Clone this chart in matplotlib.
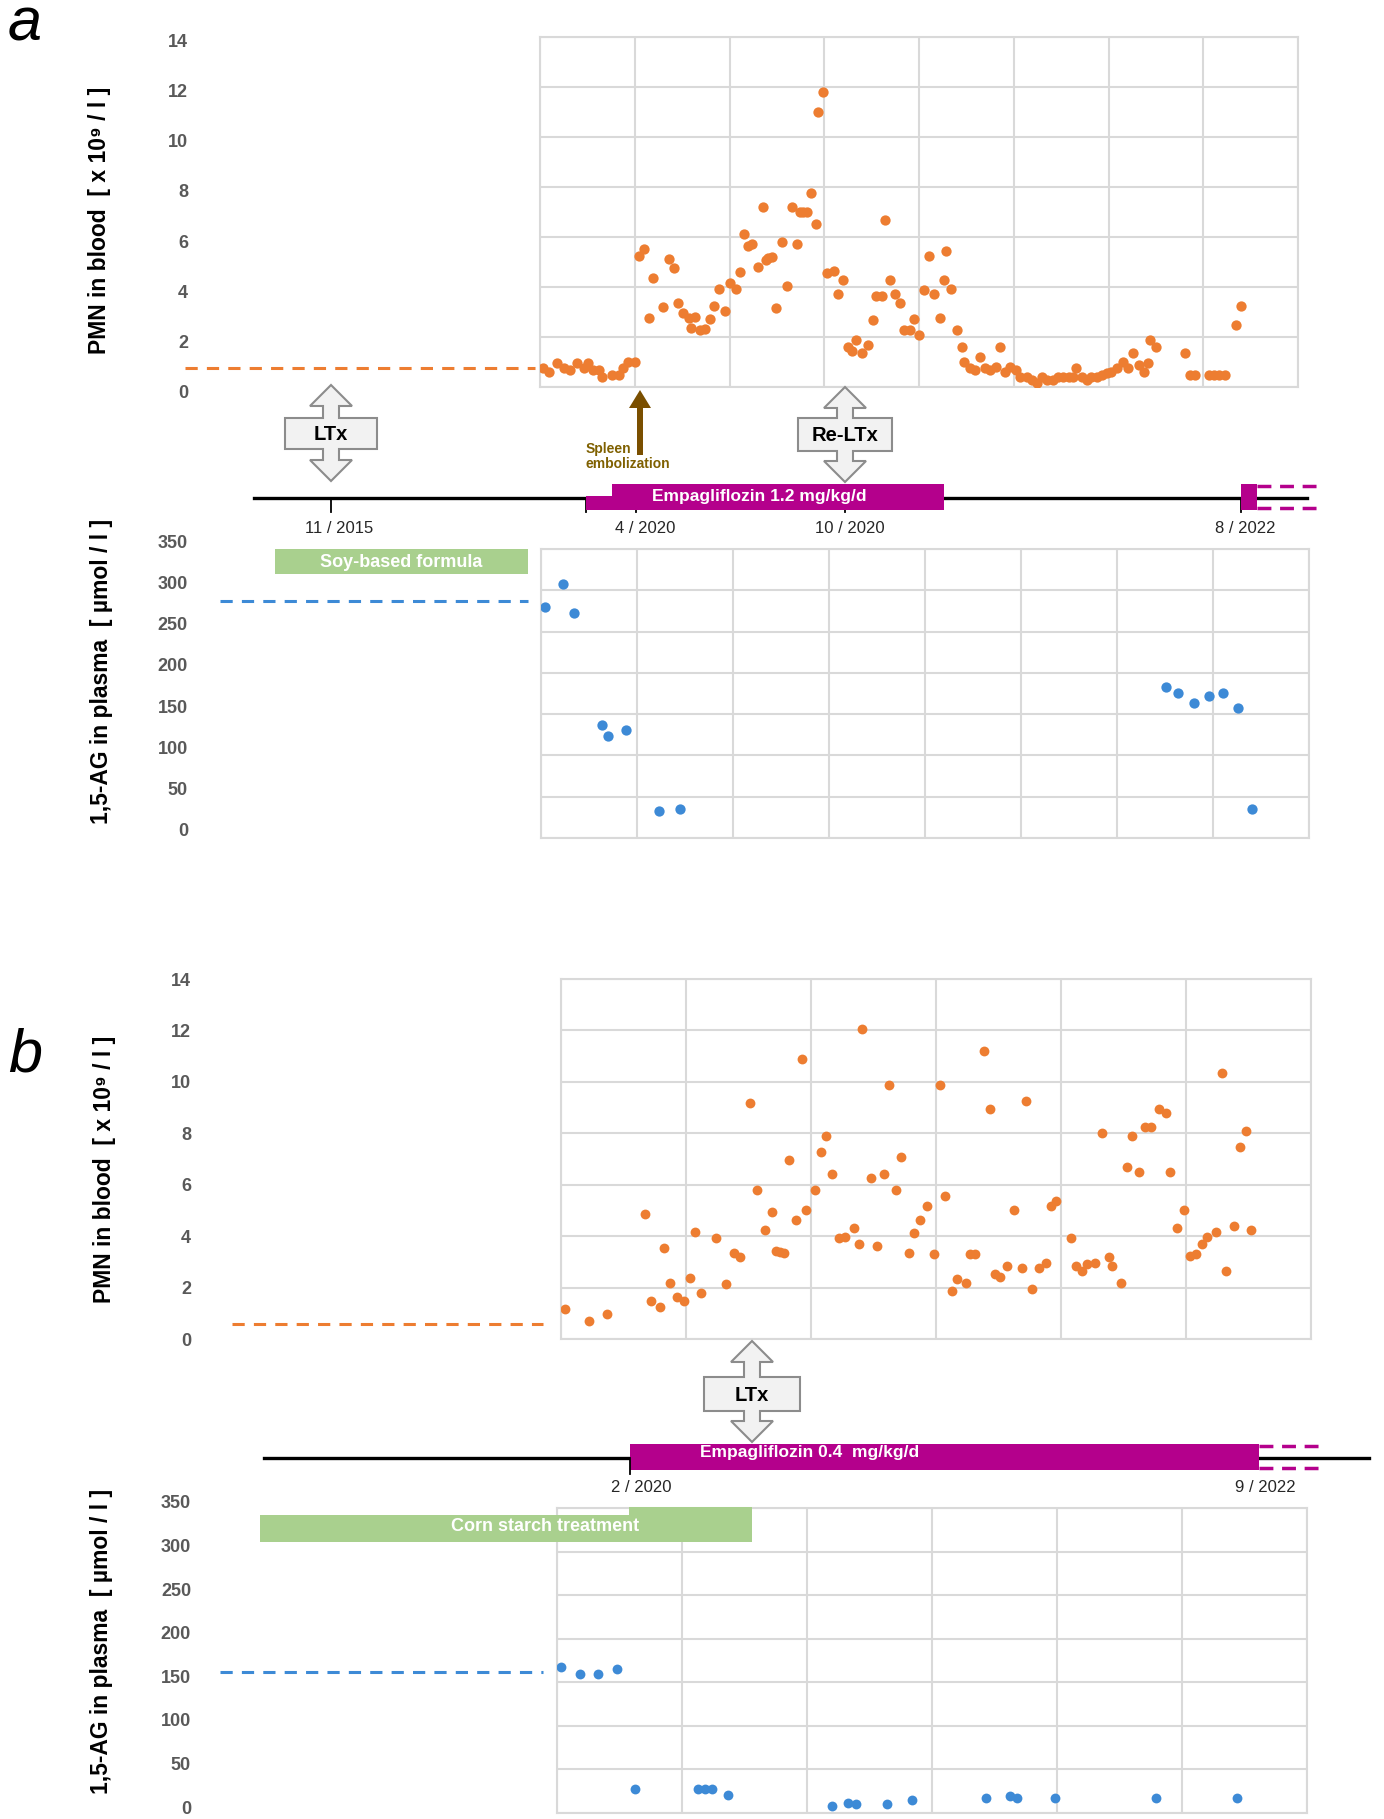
import matplotlib
matplotlib.use("Agg")
import matplotlib.pyplot as plt
import matplotlib.transforms as mtransforms
from matplotlib import font_manager
from matplotlib.patches import Rectangle, Polygon, FancyArrow

# fonts: narrow sans if we have it
names = {f.name for f in font_manager.fontManager.ttflist}
narrow = 'Liberation Sans Narrow' if 'Liberation Sans Narrow' in names else 'Liberation Sans'
plt.rcParams['font.family'] = [narrow, 'DejaVu Sans']

# ---- data (x = position in grid columns) ----
pmn_a_x = [0.035, 0.10, 0.18, 0.25, 0.32, 0.39, 0.46, 0.51, 0.56, 0.62, 0.65, 0.76, 0.83, 0.88, 0.93, 1.00,
           1.05, 1.10, 1.15, 1.19, 1.30, 1.36, 1.41, 1.46, 1.51, 1.57, 1.59, 1.64, 1.69, 1.74, 1.79, 1.84,
           1.89, 1.95, 2.01, 2.07, 2.11, 2.15, 2.20, 2.24, 2.30, 2.35, 2.38, 2.41, 2.45, 2.49, 2.55, 2.61,
           2.66, 2.71, 2.74, 2.78, 2.82, 2.86, 2.91, 2.93, 2.99, 3.03, 3.10, 3.15, 3.20, 3.25, 3.29, 3.34,
           3.40, 3.46, 3.51, 3.55, 3.61, 3.64, 3.69, 3.75, 3.80, 3.84, 3.90, 3.95, 4.00, 4.05, 4.11, 4.16,
           4.22, 4.26, 4.29, 4.34, 4.40, 4.45, 4.48, 4.54, 4.59, 4.64, 4.70, 4.75, 4.81, 4.85, 4.91, 4.96,
           5.02, 5.07, 5.14, 5.19, 5.25, 5.30, 5.35, 5.41, 5.47, 5.52, 5.58, 5.63, 5.66, 5.72, 5.77, 5.82,
           5.88, 5.93, 5.98, 6.03, 6.09, 6.15, 6.21, 6.26, 6.32, 6.37, 6.42, 6.44, 6.50, 6.81, 6.86, 6.91,
           7.06, 7.11, 7.17, 7.23, 7.35, 7.40]
pmn_a_y = [0.75, 0.61, 0.95, 0.75, 0.68, 0.95, 0.75, 0.95, 0.68, 0.68, 0.41, 0.48, 0.48, 0.75, 1.01, 1.01,
           5.24, 5.52, 2.77, 4.35, 3.19, 5.11, 4.75, 3.37, 2.97, 2.75, 2.35, 2.79, 2.28, 2.31, 2.71, 3.24,
           3.92, 3.04, 4.15, 3.92, 4.61, 6.12, 5.64, 5.71, 4.81, 7.21, 5.08, 5.15, 5.21, 3.17, 5.79, 4.05,
           7.21, 5.71, 7.01, 7.01, 7.01, 7.77, 6.52, 10.99, 11.81, 4.55, 4.65, 3.72, 4.28, 1.59, 1.45, 1.88,
           1.35, 1.68, 2.68, 3.64, 3.64, 6.68, 4.28, 3.72, 3.37, 2.28, 2.28, 2.71, 2.08, 3.88, 5.24, 3.71,
           2.77, 4.28, 5.44, 3.92, 2.28, 1.59, 1.01, 0.75, 0.68, 1.19, 0.75, 0.68, 0.81, 1.59, 0.61, 0.81,
           0.68, 0.41, 0.41, 0.28, 0.17, 0.41, 0.28, 0.28, 0.41, 0.41, 0.41, 0.41, 0.75, 0.41, 0.28, 0.41,
           0.41, 0.48, 0.55, 0.61, 0.75, 1.01, 0.75, 1.35, 0.88, 0.61, 0.97, 1.88, 1.59, 1.35, 0.48, 0.48,
           0.48, 0.48, 0.48, 0.48, 2.48, 3.24]
ag_a_x = [0.04, 0.23, 0.34, 0.64, 0.70, 0.89, 1.23, 1.45, 6.51, 6.64, 6.80, 6.96, 7.10, 7.26, 7.41]
ag_a_y = [280, 308, 272, 137, 124, 131, 33, 35, 183, 176, 164, 172, 176, 157, 35]

pmn_b_x = [0.03, 0.22, 0.37, 0.67, 0.72, 0.79, 0.82, 0.87, 0.93, 0.98, 1.03, 1.07, 1.12, 1.24, 1.32, 1.38,
           1.43, 1.51, 1.57, 1.63, 1.69, 1.72, 1.75, 1.78, 1.82, 1.88, 1.93, 1.96, 2.03, 2.08, 2.12, 2.17,
           2.22, 2.27, 2.34, 2.38, 2.41, 2.48, 2.53, 2.58, 2.62, 2.68, 2.72, 2.78, 2.82, 2.87, 2.93, 2.98,
           3.03, 3.07, 3.13, 3.17, 3.24, 3.27, 3.31, 3.38, 3.43, 3.47, 3.51, 3.57, 3.62, 3.69, 3.72, 3.77,
           3.82, 3.88, 3.92, 3.96, 4.08, 4.12, 4.17, 4.21, 4.27, 4.33, 4.38, 4.41, 4.48, 4.53, 4.57, 4.62,
           4.67, 4.72, 4.78, 4.84, 4.87, 4.93, 4.98, 5.03, 5.08, 5.13, 5.17, 5.24, 5.29, 5.32, 5.38, 5.43,
           5.48, 5.52]
pmn_b_y = [1.17, 0.71, 0.96, 4.85, 1.49, 1.23, 3.53, 2.19, 1.65, 1.48, 2.36, 4.15, 1.80, 3.92, 2.13, 3.36,
           3.20, 9.17, 5.80, 4.24, 4.93, 3.43, 3.40, 3.36, 6.97, 4.63, 10.90, 5.02, 5.80, 7.29, 7.91, 6.42,
           3.92, 3.98, 4.31, 3.68, 12.07, 6.25, 3.62, 6.42, 9.86, 5.80, 7.06, 3.36, 4.14, 4.63, 5.18, 3.30,
           9.86, 5.57, 1.88, 2.34, 2.19, 3.30, 3.30, 11.21, 8.94, 2.52, 2.43, 2.84, 5.02, 2.75, 9.26, 1.95,
           2.75, 2.97, 5.18, 5.35, 3.92, 2.84, 2.65, 2.91, 2.97, 8.01, 3.18, 2.84, 2.19, 6.68, 7.91, 6.51,
           8.24, 8.24, 8.95, 8.78, 6.51, 4.31, 5.02, 3.23, 3.30, 3.68, 3.98, 4.15, 10.34, 2.66, 4.40, 7.46,
           8.07, 4.24]
ag_b_x = [0.03, 0.18, 0.33, 0.48, 0.62, 1.13, 1.18, 1.24, 1.37, 2.20, 2.33, 2.39, 2.64, 2.84, 3.43, 3.62,
          3.68, 3.98, 4.79, 5.44]
ag_b_y = [167, 160, 160, 165, 28, 28, 28, 28, 21, 8, 12, 10, 10, 15, 17, 19, 17, 17, 17, 17]

pmn_ref = [0.76, 0.58]     # pre-treatment level, panels a / b
ag_ref = [287, 162]

ORANGE = '#ed7d31'
BLUE = '#3d8ad6'
MAGENTA = '#b4008c'
GREEN = '#a9d08e'
GRID = '#d9d9d9'
TICKC = '#595959'

W, H = 1384, 1819
fig = plt.figure(figsize=(W / 100, H / 100), dpi=100)


def rect(l, t, r, b):
    return [l / W, 1 - b / H, (r - l) / W, (b - t) / H]


def make_ax(box, ncol, ymax, ystep, pad_px, lab_shift=0):
    ax = fig.add_axes(rect(*box))
    ax.set_xlim(0, ncol)
    ax.set_ylim(0, ymax)
    ax.set_xticks(range(ncol + 1))
    ax.set_yticks(range(0, ymax + 1, ystep))
    ax.set_xticklabels([])
    ax.grid(True, color=GRID, lw=1.5)
    ax.set_axisbelow(True)
    for s in ax.spines.values():
        s.set_color(GRID)
        s.set_linewidth(1.5)
    ax.tick_params(axis='x', length=0)
    ax.tick_params(axis='y', length=0, pad=pad_px * 0.72, labelcolor=TICKC, labelsize=13)
    off = mtransforms.ScaledTranslation(0, lab_shift / 100, fig.dpi_scale_trans)
    for lab in ax.get_yticklabels():
        lab.set_fontweight('bold')
        lab.set_transform(lab.get_transform() + off)
    return ax


def set_ylab(ax, text, cx, cy, box):
    l, t, r, b = box
    ax.set_ylabel(text, fontsize=16.5, fontweight='bold', va='center')
    ax.yaxis.set_label_coords((cx - l) / (r - l), (b - cy) / (b - t))


def ref_line(ax, box, x0, x1, yval, color):
    l, t, r, b = box
    tr = mtransforms.blended_transform_factory(ax.transAxes, ax.transData)
    ax.plot([(x0 - l) / (r - l), (x1 - l) / (r - l)], [yval, yval], transform=tr,
            color=color, ls=(0, (4, 3)), lw=2.2, clip_on=False)


pmn_lab = 'PMN in blood  [ x 10⁹ / l ]'
ag_lab = '1,5-AG in plasma  [ µmol / l ]'

# ---- panel a ----
boxA1 = (540, 37, 1298, 387)
axA1 = make_ax(boxA1, 8, 14, 2, 352, -4)
axA1.scatter(pmn_a_x, pmn_a_y, s=55, color=ORANGE, lw=0, zorder=3)
set_ylab(axA1, pmn_lab, 100, 220, boxA1)
ref_line(axA1, boxA1, 185, 535, pmn_ref[0], ORANGE)

boxA2 = (541, 549, 1309, 838)
axA2 = make_ax(boxA2, 8, 350, 50, 353, 8)
axA2.scatter(ag_a_x, ag_a_y, s=55, color=BLUE, lw=0, zorder=3)
set_ylab(axA2, ag_lab, 102, 671, boxA2)
ref_line(axA2, boxA2, 220, 528, ag_ref[0], BLUE)

# ---- panel b ----
boxB1 = (561, 979, 1311, 1339)
axB1 = make_ax(boxB1, 6, 14, 2, 370, 0)
axB1.scatter(pmn_b_x, pmn_b_y, s=50, color=ORANGE, lw=0, zorder=3)
set_ylab(axB1, pmn_lab, 104, 1169, boxB1)
ref_line(axB1, boxB1, 232, 543, pmn_ref[1], ORANGE)

boxB2 = (557, 1508, 1307, 1813)
axB2 = make_ax(boxB2, 6, 350, 50, 366, 6)
axB2.scatter(ag_b_x, ag_b_y, s=50, color=BLUE, lw=0, zorder=3)
set_ylab(axB2, ag_lab, 102, 1641, boxB2)
ref_line(axB2, boxB2, 220, 543, ag_ref[1], BLUE)

# ---- overlay for timelines / annotations (pixel coords) ----
ov = fig.add_axes([0, 0, 1, 1])
ov.set_xlim(0, W)
ov.set_ylim(H, 0)
ov.axis('off')


def box(x, y, w, h, color):
    ov.add_patch(Rectangle((x, y), w, h, color=color, lw=0, zorder=3))


def callout(cx, top, bot, bw, btop, bbot, label):
    hw, hl, sw = 21, 21, 8
    pts = [(cx, top), (cx + hw, top + hl), (cx + sw, top + hl), (cx + sw, btop), (cx + bw, btop),
           (cx + bw, bbot), (cx + sw, bbot), (cx + sw, bot - hl), (cx + hw, bot - hl), (cx, bot),
           (cx - hw, bot - hl), (cx - sw, bot - hl), (cx - sw, bbot), (cx - bw, bbot), (cx - bw, btop),
           (cx - sw, btop), (cx - sw, top + hl), (cx - hw, top + hl)]
    ov.add_patch(Polygon(pts, closed=True, fc='#f2f2f2', ec='#8c8c8c', lw=1.5, zorder=4))
    ov.text(cx, (btop + bbot) / 2 + 1, label, ha='center', va='center', fontsize=14.5,
            fontweight='bold', zorder=5)


def date_lab(x, y, s):
    ov.text(x, y, s, ha='center', va='center', fontsize=12, color='#262626')


# timeline a
ov.plot([254, 1307], [498, 498], color='black', lw=2.4, zorder=2)
for tx in [331, 586, 636, 845, 1241]:
    ov.plot([tx, tx], [498, 512], color='black', lw=1.3, zorder=2)
box(586, 496, 26, 14, MAGENTA)
box(612, 484, 332, 26, MAGENTA)
box(1241, 484, 16, 26, MAGENTA)
for yy in [486, 508]:
    ov.plot([1257, 1318], [yy, yy], color=MAGENTA, lw=2.5, ls=(0, (4, 2.5)), zorder=3)
ov.text(759, 496, 'Empagliflozin 1.2 mg/kg/d', ha='center', va='center', color='white',
        fontsize=12.5, fontweight='bold', zorder=5)
date_lab(339, 528, '11 / 2015')
date_lab(645, 528, '4 / 2020')
date_lab(850, 528, '10 / 2020')
date_lab(1245, 528, '8 / 2022')

callout(331, 385, 481, 46, 418, 449, 'LTx')
callout(845, 387, 482, 47, 418, 451, 'Re-LTx')

ov.add_patch(FancyArrow(640, 455, 0, -65, width=6, head_width=22, head_length=18,
                        length_includes_head=True, color='#7a4f00', lw=0, zorder=4))
ov.text(586, 449, 'Spleen', ha='left', va='center', fontsize=10, fontweight='bold', color='#7f6000')
ov.text(586, 464, 'embolization', ha='left', va='center', fontsize=10, fontweight='bold', color='#7f6000')

box(275, 549, 253, 25, GREEN)
ov.text(401, 562, 'Soy-based formula', ha='center', va='center', color='white', fontsize=13,
        fontweight='bold', zorder=5)

# timeline b
ov.plot([264, 1369], [1458, 1458], color='black', lw=2.4, zorder=2)
ov.plot([630, 630], [1458, 1474], color='black', lw=1.3, zorder=4)
box(630, 1444, 629, 26, MAGENTA)
for yy in [1446, 1468]:
    ov.plot([1259, 1322], [yy, yy], color=MAGENTA, lw=2.5, ls=(0, (4, 2.5)), zorder=3)
ov.text(810, 1452, 'Empagliflozin 0.4  mg/kg/d', ha='center', va='center', color='white',
        fontsize=12.5, fontweight='bold', zorder=5)
date_lab(641, 1487, '2 / 2020')
date_lab(1265, 1487, '9 / 2022')

callout(752, 1341, 1442, 48, 1377, 1411, 'LTx')

box(260, 1515, 492, 27, GREEN)
box(629, 1507, 123, 35, GREEN)
ov.text(545, 1526, 'Corn starch treatment', ha='center', va='center', color='white', fontsize=13,
        fontweight='bold', zorder=5)

# panel letters
fig.text(8 / W, 1 - 25 / H, 'a', fontsize=44, style='italic', ha='left', va='center',
         family=['Liberation Sans', 'DejaVu Sans'])
fig.text(8 / W, 1 - 1056 / H, 'b', fontsize=44, style='italic', ha='left', va='center',
         family=['Liberation Sans', 'DejaVu Sans'])

fig.savefig('out.png', dpi=100)
